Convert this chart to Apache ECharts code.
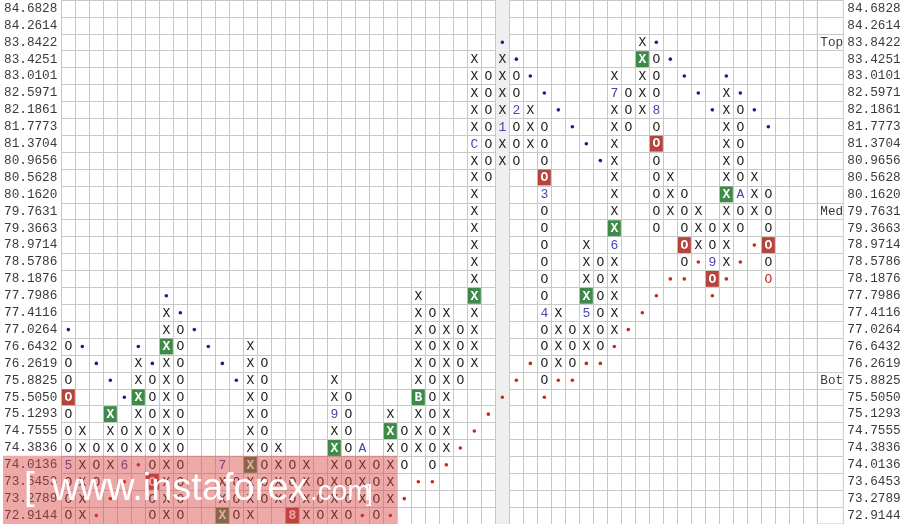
<!DOCTYPE html>
<html><head><meta charset="utf-8">
<script src="https://cdn.jsdelivr.net/npm/echarts@6/dist/echarts.min.js"></script>
<style>html,body{margin:0;padding:0;background:#fff}#c{width:905px;height:524px}</style>
</head><body><div id="c"></div>
<script>
// ---- data ----
const priceLabels = ['84.6828','84.2614','83.8422','83.4251','83.0101','82.5971','82.1861','81.7773','81.3704','80.9656','80.5628','80.1620','79.7631','79.3663','78.9714','78.5786','78.1876','77.7986','77.4116','77.0264','76.6432','76.2619','75.8825','75.5050','75.1293','74.7555','74.3836','74.0136','73.6453','73.2789','72.9144'];
const levelNames = ['','','Top','','','','','','','','','','Med','','','','','','','','','','Bot','','','','','','','',''];
// each column: [first row index from top, cells downward]
// X / O boxes, b = blue trend dot, r = red trend dot, digits/letters = month marks, Q = current (red) O
const columns = [
 [19,'bOOOOOOO5OOO'],[20,'b....XXXXXX'],[21,'b....OOO.r'],[22,'b.XXXX.r'],[23,'b.OO6r'],
 [20,'bXXXXXXr'],[21,'bOOOOOOOOO'],[17,'bXXXXXXXXXXXXX'],[18,'bOOOOOOOOOOOO'],[19,'b'],
 [20,'b'],[21,'b.....7XXX'],[22,'b.....OOO'],[20,'XXXXXXXXXXX'],[21,'OOOOOOOOO'],
 [26,'XXXX'],[27,'OOO8'],[27,'XXXX'],[28,'OOO'],[22,'XX9XXXXXX'],
 [23,'OOOOOOOO'],[26,'AXXXr'],[27,'OOOO'],[24,'XXXXXXr'],[25,'OOO.r'],
 [17,'XXXXXXBXXX.r'],[18,'OOOOOOOOOOr'],[18,'XXXXXXXXXr'],[19,'OOOO...r'],[3,'XXXXXCXXXXXXXXXXXXX...r'],
 [4,'OOOOOOO.............r'],[2,'bXXXX1XX.............r'],[3,'bOO2OOO............r'],[4,'b.XXX............r'],[5,'b.OOOO3OOOOOO4OOOOr'],
 [6,'b...........XXXXr'],[7,'b...........OOOr'],[8,'b.....XXXX5XXr'],[9,'b.....OOOOOOr'],[4,'X7XXXXXXXX6XXXXXr'],
 [5,'OOO...........r'],[2,'XXXXX...........r'],[2,'bOOO8OOOOOOO...r'],[3,'b......XXX...r'],[4,'b......OOOOOr'],
 [5,'b......XXXr'],[6,'b......OO9Or'],[4,'bXXXXXXXXXXXr'],[5,'bOOOOOAOO.r'],[6,'b...XXX.r'],
 [7,'b...OOOOOQ'],[0,''],[0,''],[0,'']
];
const greenBoxes = [[3,24],[5,23],[7,20],[11,30],[13,27],[19,26],[23,25],[25,23],[29,17],[37,17],[39,13],[41,3],[47,11]];
const redBoxes = [[0,23],[6,28],[16,30],[34,10],[42,8],[44,14],[46,16],[50,14]];
const highlightColumn = 31;

// ---- build ----
const colCats = columns.map((_, i) => String(i));
const boxKey = (c, r) => c + ',' + r;
const greenSet = new Set(greenBoxes.map(([c, r]) => boxKey(c, r)));
const redSet = new Set(redBoxes.map(([c, r]) => boxKey(c, r)));
const cells = [];
columns.forEach(([start, s], c) => {
  for (let i = 0; i < s.length; i++) {
    const ch = s[i];
    if (ch === '.') continue;
    const r = start + i;
    const box = greenSet.has(boxKey(c, r)) ? 'g' : (redSet.has(boxKey(c, r)) ? 'r' : '');
    cells.push([c, r, ch, box]);
  }
});

const MONO = '"Liberation Mono", "DejaVu Sans Mono", monospace';
const SANS = '"Liberation Sans", Arial, sans-serif';
const GRID_TOP = -1.64, GRID_BOTTOM = -0.3;
const lineColor = '#c8c8c8';
const labelColor = '#3a3a3a';
const areaColors = colCats.map((_, i) => i === highlightColumn ? '#efefef' : 'rgba(255,255,255,0)');

const chart = echarts.init(document.getElementById('c'), null, {renderer: 'canvas'});
chart.setOption({
  animation: false,
  backgroundColor: '#ffffff',
  grid: [
    {left: 61.33, right: 905 - 817.33, top: GRID_TOP, bottom: GRID_BOTTOM, containLabel: false},
    {left: 817.33, width: 26, top: GRID_TOP, bottom: GRID_BOTTOM, show: true, borderColor: lineColor, borderWidth: 1, backgroundColor: 'transparent'}
  ],
  xAxis: [
    {gridIndex: 0, type: 'category', data: colCats, axisLine: {show: false}, axisTick: {show: false}, axisLabel: {show: false},
     splitLine: {show: true, interval: 0, lineStyle: {color: lineColor, width: 1}},
     splitArea: {show: true, interval: 0, areaStyle: {color: areaColors}}},
    {gridIndex: 1, type: 'value', min: 0, max: 1, show: false}
  ],
  yAxis: [
    {gridIndex: 0, type: 'category', data: priceLabels, inverse: true, position: 'left',
     axisLine: {show: false}, axisTick: {show: false},
     axisLabel: {interval: 0, margin: 4, fontFamily: MONO, fontSize: 12.7, color: labelColor},
     splitLine: {show: true, interval: 0, lineStyle: {color: lineColor, width: 1}}},
    {gridIndex: 0, type: 'category', data: levelNames, inverse: true, position: 'right',
     axisLine: {show: false}, axisTick: {show: false},
     axisLabel: {interval: 0, margin: 3, fontFamily: MONO, fontSize: 12.7, color: labelColor},
     splitLine: {show: false}},
    {gridIndex: 1, type: 'category', data: priceLabels, inverse: true, position: 'right',
     axisLine: {show: false}, axisTick: {show: false},
     axisLabel: {interval: 0, margin: 4, fontFamily: MONO, fontSize: 12.7, color: labelColor},
     splitLine: {show: true, interval: 0, lineStyle: {color: lineColor, width: 1}}}
  ],
  series: [{
    type: 'custom',
    xAxisIndex: 0, yAxisIndex: 0,
    data: cells.map(d => [d[0], d[1]]),
    renderItem: function (params, api) {
      const d = cells[params.dataIndex];
      const p = api.coord([api.value(0), api.value(1)]);
      const sz = api.size([1, 1]);
      const w = sz[0], h = sz[1];
      const ch = d[2], box = d[3];
      const children = [];
      if (box) {
        children.push({type: 'rect', shape: {x: p[0] - w / 2 + 0.5, y: p[1] - h / 2 + 0.5, width: w - 1, height: h - 1},
          style: {fill: box === 'g' ? '#3f8a48' : '#b4443c'}});
      }
      if (ch === 'b' || ch === 'r') {
        children.push({type: 'circle', shape: {cx: p[0], cy: p[1], r: 1.8}, style: {fill: ch === 'b' ? '#1c1c8c' : '#c8281e'}});
      } else {
        let fill = '#1a1a1a', txt = ch, weight = 'normal';
        if (/[0-9A-C]/.test(ch)) fill = '#4646b4';
        if (ch === 'Q') { txt = 'O'; fill = '#c8281e'; }
        if (box) { fill = '#ffffff'; weight = 'bold'; }
        children.push({type: 'text', style: {text: txt, x: p[0], y: p[1] + 0.5, align: 'center', verticalAlign: 'middle',
          font: weight + ' 13px ' + MONO, fill: fill}});
      }
      return {type: 'group', children: children};
    }
  }],
  graphic: [{
    type: 'group', z: 100, zlevel: 1, silent: true,
    children: [
      {type: 'rect', z: 100, shape: {x: 3, y: 455.7, width: 394, height: 70}, style: {fill: 'rgba(214,62,62,0.45)'}},
      {type: 'text', z: 101, style: {text: '[', x: 24, y: 508, font: '38px ' + SANS, fill: '#ffffff', verticalAlign: 'bottom'}},
      {type: 'text', z: 101, style: {text: 'www.instaforex', x: 52, y: 509, font: '38px ' + SANS, fill: '#ffffff', verticalAlign: 'bottom'}},
      {type: 'text', z: 101, style: {text: '.com', x: 310, y: 506, font: '28px ' + SANS, fill: '#ffffff', verticalAlign: 'bottom'}},
      {type: 'text', z: 101, style: {text: ']', x: 366, y: 506, font: '24px ' + SANS, fill: '#ffffff', verticalAlign: 'bottom'}}
    ]
  }]
});
</script>
</body></html>
